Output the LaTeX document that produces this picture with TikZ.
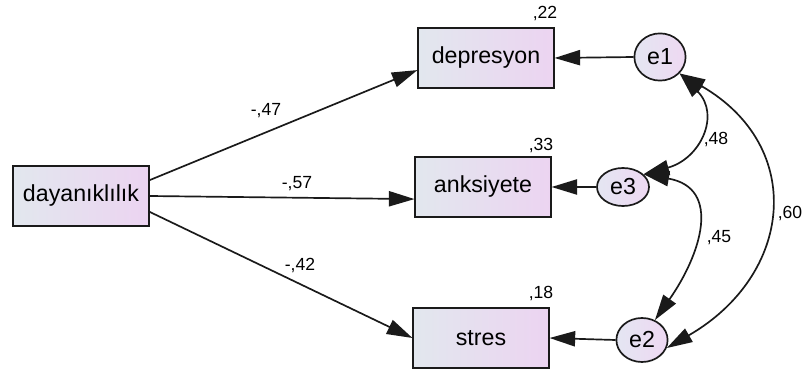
\documentclass[tikz,border=0pt]{standalone}
\usepackage{fontspec}
\setmainfont{Liberation Sans}
\usepackage{xcolor}
\definecolor{cBoxL}{HTML}{E2E7EE}
\definecolor{cBoxR}{HTML}{ECD4F1}
\definecolor{cErrL}{HTML}{E4E6F2}
\definecolor{cErrR}{HTML}{EED8F2}
\definecolor{cLine}{HTML}{1A1A1A}
\usetikzlibrary{positioning,arrows.meta,shapes.geometric}
\tikzset{
  node-var/.style={draw=cLine,line width=1.3pt,minimum width=3.38cm,
    minimum height=1.5cm,inner sep=0pt,left color=cBoxL,right color=cBoxR,
    font=\fontsize{16.5}{18}\selectfont},
  node-err/.style={draw=cLine,line width=1.2pt,ellipse,inner sep=0pt,
    left color=cErrL,right color=cErrR,font=\fontsize{16.5}{18}\selectfont},
  node-num/.style={inner sep=0pt,font=\fontsize{12.5}{14}\selectfont},
  arrow/.style={-{Triangle[length=6.4mm,width=3.8mm]},line width=1.2pt,draw=cLine},
  arrow-cov/.style={{Triangle[length=6.4mm,width=3.8mm]}-{Triangle[length=6.4mm,width=3.8mm]},
    line width=1.2pt,draw=cLine},
}
\begin{document}
\begin{tikzpicture}[x=0.025cm,y=-0.025cm]
  \useasboundingbox (0,0) rectangle (802,372);
  % observed variables
  \node[node-var] (day) at (81,196)  {dayanıklılık};
  \node[node-var] (dep) at (486,58)  {depresyon};
  \node[node-var] (anx) at (483,187) {anksiyete};
  \node[node-var] (str) at (481,338) {stres};
  % error terms
  \node[node-err,minimum width=1.28cm,minimum height=1.18cm] (e1) at (660,57)  {e1};
  \node[node-err,minimum width=1.3cm,minimum height=0.95cm]  (e3) at (623,187) {e3};
  \node[node-err,minimum width=1.28cm,minimum height=1.1cm]  (e2) at (642,340) {e2};
  % explained variance
  \node[node-num] (r-dep) at (545,13)  {,22};
  \node[node-num] (r-anx) at (541,145) {,33};
  \node[node-num] (r-str) at (541,293) {,18};
  % path weights
  \node[node-num] (w-dep) at (266,111) {-,47};
  \node[node-num] (w-anx) at (297,184) {-,57};
  \node[node-num] (w-str) at (300,265) {-,42};
  % covariances
  \node[node-num] (c-13) at (716,139) {,48};
  \node[node-num] (c-32) at (719,238) {,45};
  \node[node-num] (c-12) at (790,213) {,60};
  \draw[arrow] (day.13) -- (dep.190);
  \draw[arrow] (day.east) -- (anx.190);
  \draw[arrow] (day.-13) -- (str.west);
  \draw[arrow] (e1.west) -- (dep.east);
  \draw[arrow] (e3.west) -- (anx.east);
  \draw[arrow] (e2.west) -- (str.east);
  \draw[arrow-cov] (e1.-40) to[out=-45,in=15,looseness=1.4] (e3.32);
  \draw[arrow-cov] (e3.32) to[out=-10,in=55,looseness=1.4] (e2.57);
  \draw[arrow-cov] (e1.-40) to[out=-30,in=30,looseness=1.36] (e2.-18);
\end{tikzpicture}
\end{document}
